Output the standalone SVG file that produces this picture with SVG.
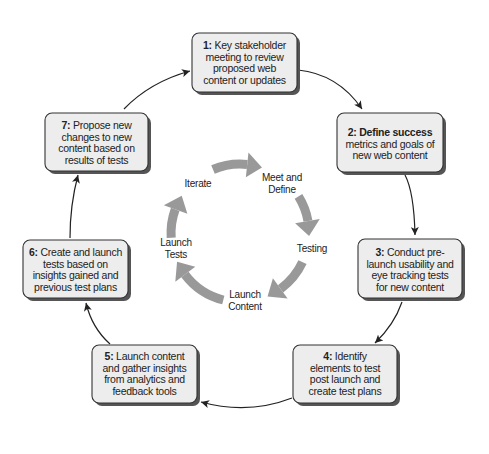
<svg xmlns="http://www.w3.org/2000/svg" width="489" height="454" viewBox="0 0 489 454">
<defs>
<style>
.sh{fill:#555;}
.bx{fill:#ededed;stroke:#333;stroke-width:1.1;}
.t{font-family:"Liberation Sans",Arial,sans-serif;font-size:10.5px;letter-spacing:-0.25px;fill:#222;text-anchor:middle;}
.b{font-weight:bold;}
.il{font-family:"Liberation Sans",Arial,sans-serif;font-size:10px;letter-spacing:-0.2px;fill:#222;text-anchor:middle;}
.con{fill:none;stroke:#222;stroke-width:1.2;marker-end:url(#ah);}
.arc{fill:none;stroke:#999;stroke-width:9;}
.hd{fill:#999;}
</style>
<marker id="ah" markerWidth="9" markerHeight="8" refX="8" refY="4" orient="auto" markerUnits="userSpaceOnUse">
<path d="M0,0 L8,4 L0,8 L2,4 Z" fill="#222"/>
</marker>
</defs>
<rect width="489" height="454" fill="#fff"/>

<g id="connectors">
<path class="con" d="M298 70 Q338 74 362 109"/>
<path class="con" d="M405 175 Q414 192 415 235"/>
<path class="con" d="M402 302 Q394 325 375 343"/>
<path class="con" d="M292 398 Q248 415 201 402"/>
<path class="con" d="M110 344 Q92 328 86 303"/>
<path class="con" d="M70 238 Q70 205 78 175"/>
<path class="con" d="M124 109 Q150 82 190 71"/>
</g>

<g id="cycle">
<path class="arc" d="M213.0 169.5 A69 69 0 0 1 247.2 164.4"/>
<polygon class="hd" points="296,233 321,233 307.5,248" transform="rotate(-84 240 233)"/>
<path class="arc" d="M298.5 196.4 A69 69 0 0 1 307.95 221.0"/>
<polygon class="hd" points="296,233 321,233 307.5,248" transform="rotate(-10 240 233)"/>
<path class="arc" d="M302.5 262.2 A69 69 0 0 1 280.6 288.8"/>
<polygon class="hd" points="296,233 321,233 307.5,248" transform="rotate(54 240 233)"/>
<path class="arc" d="M223.3 300.0 A69 69 0 0 1 184.9 274.5"/>
<polygon class="hd" points="296,233 321,233 307.5,248" transform="rotate(143 240 233)"/>
<path class="arc" d="M171.2 237.8 A69 69 0 0 1 175.2 209.4"/>
<polygon class="hd" points="296,233 321,233 307.5,248" transform="rotate(200 240 233)"/>
<text class="il" x="282" y="181">Meet and</text>
<text class="il" x="282" y="193">Define</text>
<text class="il" x="312" y="252">Testing</text>
<text class="il" x="245" y="298">Launch</text>
<text class="il" x="245" y="310">Content</text>
<text class="il" x="176" y="246">Launch</text>
<text class="il" x="176" y="258">Tests</text>
<text class="il" x="198" y="187">Iterate</text>
</g>

<g id="node1">
<rect class="sh" x="195" y="36" width="105" height="59" rx="7"/>
<rect class="bx" x="192" y="33" width="105" height="59" rx="7"/>
<text class="t" x="244.5" y="49"><tspan class="b">1:</tspan> Key stakeholder</text>
<text class="t" x="244.5" y="60.5">meeting to review</text>
<text class="t" x="244.5" y="72">proposed web</text>
<text class="t" x="244.5" y="83.5">content or updates</text>
</g>

<g id="node2">
<rect class="sh" x="340" y="116" width="106" height="59" rx="7"/>
<rect class="bx" x="337" y="113" width="106" height="59" rx="7"/>
<text class="t b" x="390" y="136">2: Define success</text>
<text class="t" x="390" y="147.5">metrics and goals of</text>
<text class="t" x="390" y="159">new web content</text>
</g>

<g id="node3">
<rect class="sh" x="361" y="242" width="104" height="59" rx="7"/>
<rect class="bx" x="358" y="239" width="104" height="59" rx="7"/>
<text class="t" x="410" y="256"><tspan class="b">3:</tspan> Conduct pre-</text>
<text class="t" x="410" y="267.5">launch usability and</text>
<text class="t" x="410" y="279">eye tracking tests</text>
<text class="t" x="410" y="290.5">for new content</text>
</g>

<g id="node4">
<rect class="sh" x="296" y="348" width="104" height="58" rx="7"/>
<rect class="bx" x="293" y="345" width="104" height="58" rx="7"/>
<text class="t" x="345" y="360"><tspan class="b">4:</tspan> Identify</text>
<text class="t" x="345" y="371.5">elements to test</text>
<text class="t" x="345" y="383">post launch and</text>
<text class="t" x="345" y="394.5">create test plans</text>
</g>

<g id="node5">
<rect class="sh" x="95" y="348" width="105" height="58" rx="7"/>
<rect class="bx" x="92" y="345" width="105" height="58" rx="7"/>
<text class="t" x="144.5" y="360"><tspan class="b">5:</tspan> Launch content</text>
<text class="t" x="144.5" y="371.5">and gather insights</text>
<text class="t" x="144.5" y="383">from analytics and</text>
<text class="t" x="144.5" y="394.5">feedback tools</text>
</g>

<g id="node6">
<rect class="sh" x="26" y="243" width="105" height="58" rx="7"/>
<rect class="bx" x="23" y="240" width="105" height="58" rx="7"/>
<text class="t" x="75.5" y="256"><tspan class="b">6:</tspan> Create and launch</text>
<text class="t" x="75.5" y="267.5">tests based on</text>
<text class="t" x="75.5" y="279">insights gained and</text>
<text class="t" x="75.5" y="290.5">previous test plans</text>
</g>

<g id="node7">
<rect class="sh" x="48" y="116" width="103" height="58" rx="7"/>
<rect class="bx" x="45" y="113" width="103" height="58" rx="7"/>
<text class="t" x="96.5" y="129"><tspan class="b">7:</tspan> Propose new</text>
<text class="t" x="96.5" y="140.5">changes to new</text>
<text class="t" x="96.5" y="152">content based on</text>
<text class="t" x="96.5" y="163.5">results of tests</text>
</g>
</svg>
